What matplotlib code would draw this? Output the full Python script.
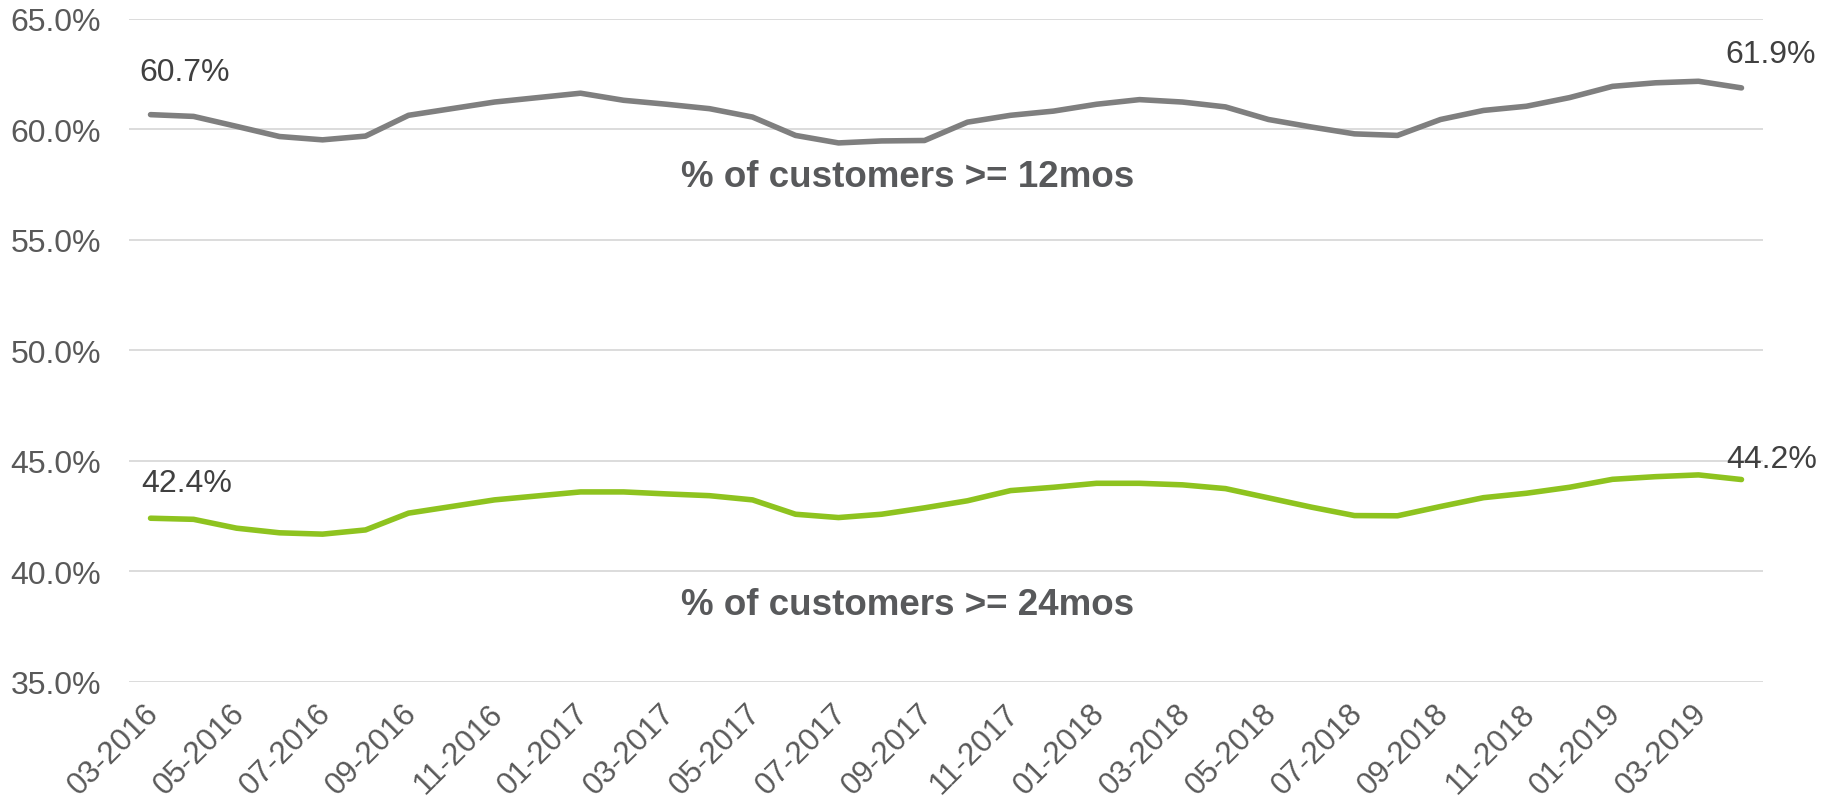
import matplotlib
matplotlib.use('Agg')
import matplotlib.pyplot as plt
import matplotlib.transforms as mtrans
from matplotlib.ticker import FuncFormatter

months = ['03-2016', '04-2016', '05-2016', '06-2016', '07-2016', '08-2016', '09-2016', '10-2016',
          '11-2016', '12-2016', '01-2017', '02-2017', '03-2017', '04-2017', '05-2017', '06-2017',
          '07-2017', '08-2017', '09-2017', '10-2017', '11-2017', '12-2017', '01-2018', '02-2018',
          '03-2018', '04-2018', '05-2018', '06-2018', '07-2018', '08-2018', '09-2018', '10-2018',
          '11-2018', '12-2018', '01-2019', '02-2019', '03-2019', '04-2019']

pct_12mos = [60.67, 60.59, 60.14, 59.68, 59.53, 59.70, 60.64, 60.94, 61.24, 61.44,
             61.64, 61.32, 61.14, 60.94, 60.56, 59.73, 59.39, 59.48, 59.50, 60.33,
             60.64, 60.83, 61.14, 61.35, 61.24, 61.02, 60.45, 60.11, 59.80, 59.73,
             60.45, 60.86, 61.05, 61.44, 61.95, 62.11, 62.18, 61.88]

pct_24mos = [42.41, 42.36, 41.96, 41.75, 41.69, 41.88, 42.64, 42.94, 43.24, 43.42,
             43.60, 43.60, 43.51, 43.43, 43.24, 42.59, 42.44, 42.59, 42.88, 43.20,
             43.66, 43.81, 43.99, 43.99, 43.92, 43.75, 43.33, 42.91, 42.53, 42.52,
             42.94, 43.34, 43.54, 43.81, 44.17, 44.29, 44.37, 44.16]

series_names = ['% of customers >= 12mos', '% of customers >= 24mos']
y_ticks = [35, 40, 45, 50, 55, 60, 65]

GRAY = '#7F7F7F'
GREEN = '#8EC31F'
TXT = '#595959'
LBL = '#404040'
BOLD = '#58595B'

plt.rcParams['font.family'] = ['Liberation Sans', 'DejaVu Sans']

fig = plt.figure(figsize=(18.33, 8.04), dpi=100)
ax = fig.add_axes([0.0704, 0.1505, 0.8914, 0.8247])

x = list(range(len(months)))
ax.plot(x, pct_12mos, color=GRAY, lw=4.0, solid_capstyle='round', solid_joinstyle='round', zorder=3)
ax.plot(x, pct_24mos, color=GREEN, lw=4.0, solid_capstyle='round', solid_joinstyle='round', zorder=3)

ax.set_xlim(-0.5, len(months) - 0.5)
ax.set_ylim(35, 65)
ax.set_yticks(y_ticks)
ax.yaxis.set_major_formatter(FuncFormatter(lambda v, p: f'{v:.1f}%'))
ax.grid(axis='y', color='#D9D9D9', lw=1.3)
ax.set_axisbelow(True)
for s in ax.spines.values():
    s.set_visible(False)

ax.set_xticks(x[::2])
ax.set_xticklabels(months[::2])
ax.tick_params(axis='y', length=0, labelsize=23, labelcolor=TXT, pad=20)
ax.tick_params(axis='x', length=0, labelsize=22.5, labelcolor=TXT, pad=19)
offset = mtrans.ScaledTranslation(4 / 100, 0, fig.dpi_scale_trans)
for lab in ax.get_xticklabels():
    lab.set_rotation(45)
    lab.set_rotation_mode('anchor')
    lab.set_ha('right')
    lab.set_va('center')
    lab.set_transform(lab.get_transform() + offset)

# end-point data labels
lab_specs = [
    (pct_12mos, 0, (24.8, 30.7)),
    (pct_12mos, len(months) - 1, (21.2, 24.4)),
    (pct_24mos, 0, (26.2, 25.6)),
    (pct_24mos, len(months) - 1, (21.9, 14.9)),
]
for series, i, off in lab_specs:
    ax.annotate(f'{series[i]:.1f}%', xy=(x[i], series[i]), xytext=off,
                textcoords='offset points', ha='center', va='center',
                fontsize=23, color=LBL, zorder=4)

# series name labels
ax.text(17.6, 57.85, series_names[0], ha='center', va='center', fontsize=26.5,
        fontweight='bold', color=BOLD)
ax.text(17.6, 38.49, series_names[1], ha='center', va='center', fontsize=26.5,
        fontweight='bold', color=BOLD)

fig.savefig('out.png', dpi=100)
